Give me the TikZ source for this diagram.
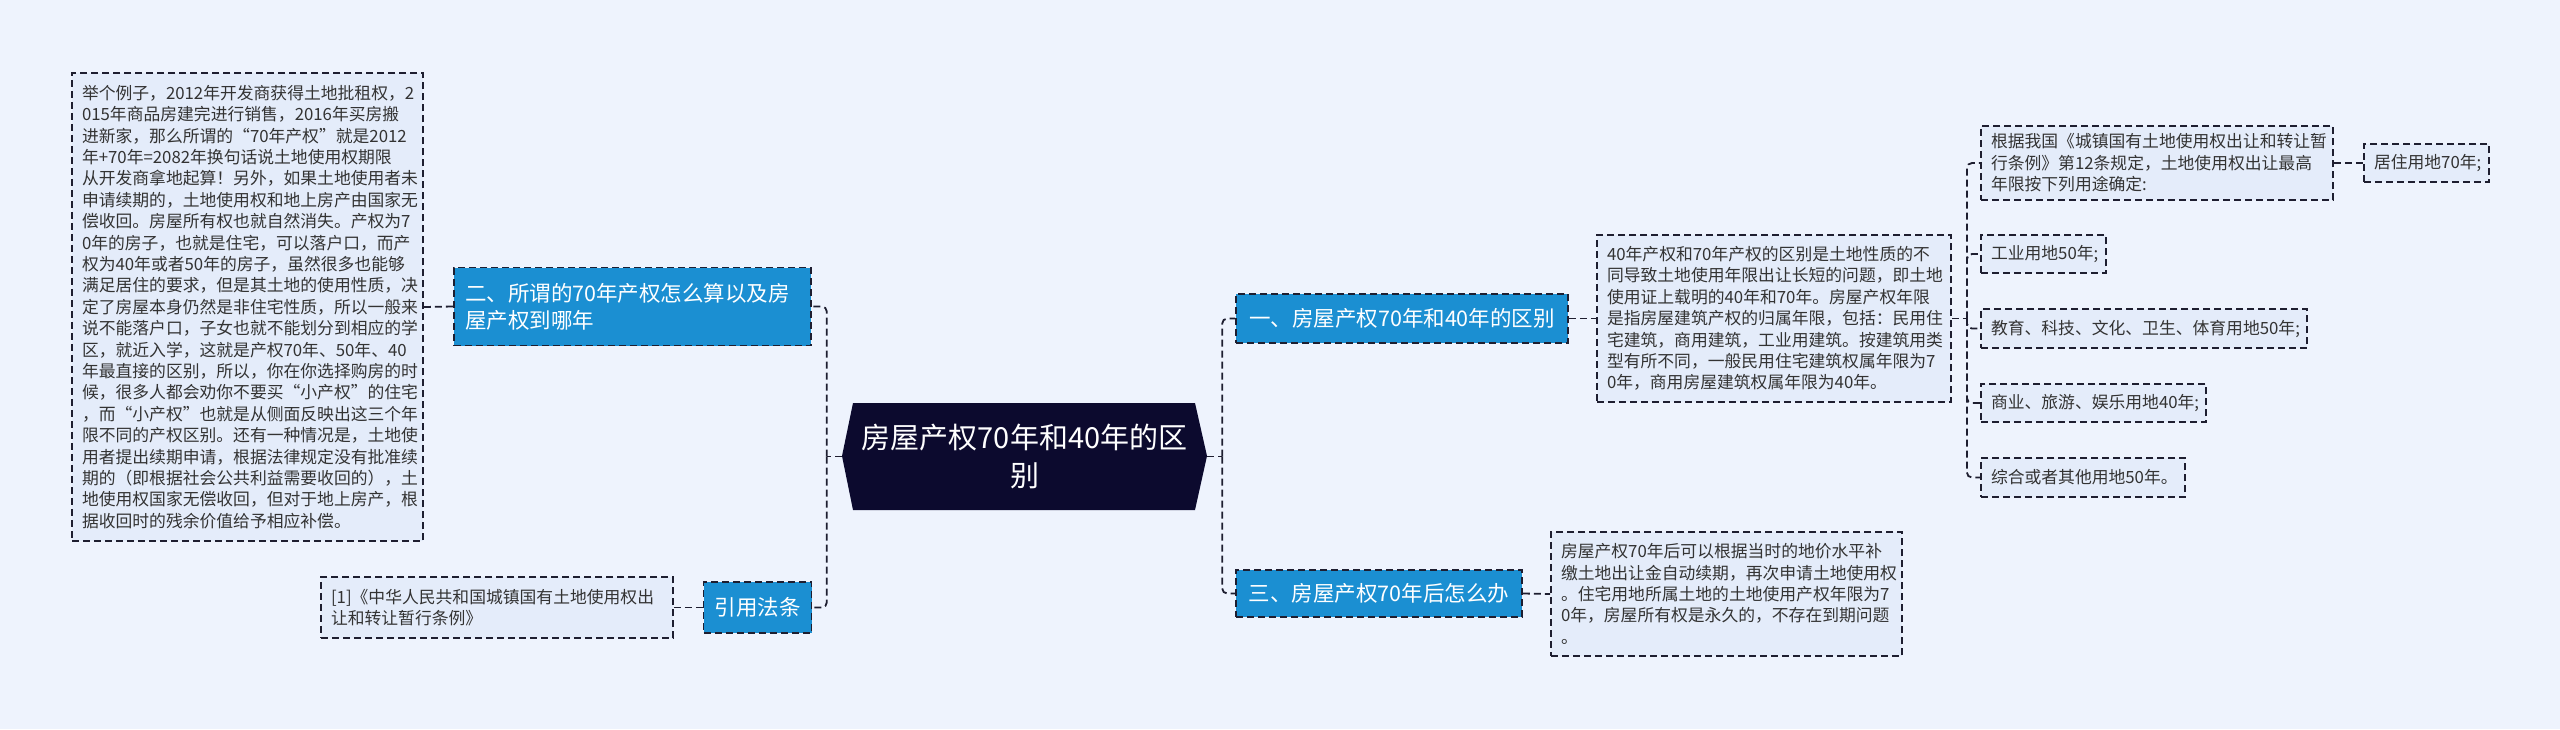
\documentclass[tikz,border=0pt]{standalone}
\usepackage{fontspec}
\setmainfont{Noto Sans CJK SC}
\definecolor{bg}{HTML}{EEF3FD}
\definecolor{boxfill}{HTML}{E4ECFA}
\definecolor{blueA}{HTML}{1B8FD2}
\definecolor{navy}{HTML}{0C0A2E}
\definecolor{dashc}{HTML}{1E1E30}
\definecolor{txt}{HTML}{333333}
\begin{document}
\begin{tikzpicture}[x=1pt,y=-1pt,
  dsh/.style={dash pattern=on 7pt off 4pt, line width=1.8pt, draw=dashc},
  textbox/.style={dsh, fill=boxfill, text=txt, font=\fontsize{16.8}{21.4}\selectfont, align=left, inner xsep=10pt, inner ysep=0pt},
  bluebox/.style={dsh, fill=blueA, text=white, font=\fontsize{21.5}{27}\selectfont, inner xsep=11pt, inner ysep=0pt},
  conn/.style={dsh, rounded corners=5pt}]

\fill[bg] (0,0) rectangle (2560,729);
\useasboundingbox (0,0) rectangle (2560,729);

% central node
\fill[navy] (842,456) -- (853,403) -- (1195,403) -- (1207,456) -- (1195,510) -- (853,510) -- cycle;
\node[text=white, align=center, font=\fontsize{29}{38}\selectfont, minimum width=365pt, minimum height=107pt, inner sep=0pt] (root) at (1024.5,456.5) {房屋产权70年和40年的区\\别};

% left side
\node[textbox, text width=331pt, minimum height=468pt] (big) at (247.5,307) {举个例子，2012年开发商获得土地批租权，2\\015年商品房建完进行销售，2016年买房搬\\进新家，那么所谓的“70年产权”就是2012\\年+70年=2082年换句话说土地使用权期限\\从开发商拿地起算！另外，如果土地使用者未\\申请续期的，土地使用权和地上房产由国家无\\偿收回。房屋所有权也就自然消失。产权为7\\0年的房子，也就是住宅，可以落户口，而产\\权为40年或者50年的房子，虽然很多也能够\\满足居住的要求，但是其土地的使用性质，决\\定了房屋本身仍然是非住宅性质，所以一般来\\说不能落户口，子女也就不能划分到相应的学\\区，就近入学，这就是产权70年、50年、40\\年最直接的区别，所以，你在你选择购房的时\\候，很多人都会劝你不要买“小产权”的住宅\\，而“小产权”也就是从侧面反映出这三个年\\限不同的产权区别。还有一种情况是，土地使\\用者提出续期申请，根据法律规定没有批准续\\期的（即根据社会公共利益需要收回的），土\\地使用权国家无偿收回，但对于地上房产，根\\据收回时的残余价值给予相应补偿。};

\node[bluebox, text width=335pt, align=left, minimum height=78pt] (n2) at (632.5,306.5) {二、所谓的70年产权怎么算以及房\\屋产权到哪年};

\node[textbox, text width=332pt, minimum height=61pt] (cite) at (497,607.5) {[1]《中华人民共和国城镇国有土地使用权出\\让和转让暂行条例》};

\node[bluebox, minimum width=107pt, minimum height=51pt] (yy) at (757.5,607.5) {引用法条};

% right side
\node[bluebox, minimum width=332pt, minimum height=49pt] (n1) at (1402,318.5) {一、房屋产权70年和40年的区别};
\node[bluebox, minimum width=286pt, minimum height=47pt] (n3) at (1379,593.5) {三、房屋产权70年后怎么办};

\node[textbox, text width=334pt, minimum height=167pt] (t1) at (1774,318.5) {40年产权和70年产权的区别是土地性质的不\\同导致土地使用年限出让长短的问题，即土地\\使用证上载明的40年和70年。房屋产权年限\\是指房屋建筑产权的归属年限，包括：民用住\\宅建筑，商用建筑，工业用建筑。按建筑用类\\型有所不同，一般民用住宅建筑权属年限为7\\0年，商用房屋建筑权属年限为40年。};

\node[textbox, text width=331pt, minimum height=124pt] (t3) at (1726.5,594) {房屋产权70年后可以根据当时的地价水平补\\缴土地出让金自动续期，再次申请土地使用权\\。住宅用地所属土地的土地使用产权年限为7\\0年，房屋所有权是永久的，不存在到期问题\\。};

\node[textbox, text width=332pt, minimum height=74pt] (A) at (2157,163) {根据我国《城镇国有土地使用权出让和转让暂\\行条例》第12条规定，土地使用权出让最高\\年限按下列用途确定:};
\node[textbox, text width=105pt, minimum height=38pt] (jz) at (2426.5,163) {居住用地70年;};
\node[textbox, text width=105pt, minimum height=38pt] (gy) at (2043.5,254) {工业用地50年;};
\node[textbox, text width=306pt, minimum height=39pt] (jy) at (2144,328.5) {教育、科技、文化、卫生、体育用地50年;};
\node[textbox, text width=205pt, minimum height=38pt] (sy) at (2093.5,403) {商业、旅游、娱乐用地40年;};
\node[textbox, text width=184pt, minimum height=39pt] (zh) at (2083,477.5) {综合或者其他用地50年。};

% connectors
\draw[conn] (root.west) -- ++(-15,0) coordinate (lj);
\draw[conn] (lj) |- (n2.east);
\draw[conn] (lj) |- (yy.east);
\draw[conn] (big.east) -- (n2.west);
\draw[conn] (cite.east) -- (yy.west);
\draw[conn] (root.east) -- ++(15,0) coordinate (rc);
\draw[conn] (rc) |- (n1.west);
\draw[conn] (rc) |- (n3.west);
\draw[conn] (n1.east) -- (t1.west);
\draw[conn] (n3.east) -- (t3.west);
\draw[conn] (t1.east) -- ++(15,0) coordinate (rj);
\draw[conn] (rj) |- (A.west);
\draw[conn] (rj) |- (gy.west);
\draw[conn] (rj) |- (jy.west);
\draw[conn] (rj) |- (sy.west);
\draw[conn] (rj) |- (zh.west);
\draw[conn] (A.east) -- (jz.west);
\end{tikzpicture}
\end{document}
